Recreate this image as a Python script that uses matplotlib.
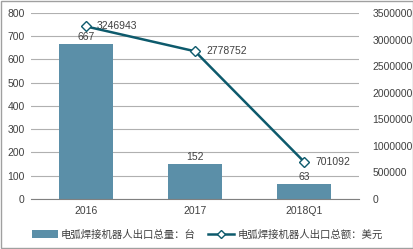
import matplotlib
matplotlib.use("Agg")
import matplotlib.pyplot as plt
from matplotlib.patches import Rectangle
from matplotlib.ticker import FuncFormatter
import numpy as np

plt.rcParams['font.family'] = ['Liberation Sans', 'Noto Sans CJK SC', 'DejaVu Sans']

categories = ["2016", "2017", "2018Q1"]
qty = [667, 152, 63]
amount = [3246943, 2778752, 701092]
qty_label = "电弧焊接机器人出口总量：台"
amount_label = "电弧焊接机器人出口总额：美元"

bar_color = "#5b8fa8"
line_color = "#0d5a6c"
grid_color = "#b0b0b0"
text_color = "#404040"

fig = plt.figure(figsize=(4.14, 2.49), dpi=100)
ax = fig.add_axes([0.076, 0.201, 0.79, 0.747])
x = np.arange(len(categories))

bars = ax.bar(x, qty, width=0.49, color=bar_color, zorder=2, label=qty_label)
ax.set_xlim(-0.5, len(categories) - 0.5)
ax.set_ylim(0, 800)
ax.set_yticks(range(0, 801, 100))
ax.set_xticks(x)
ax.set_xticklabels(categories)
ax.grid(axis='y', color=grid_color, linewidth=0.8, zorder=0)
for s in ['top', 'right', 'left']:
    ax.spines[s].set_visible(False)
ax.spines['bottom'].set_color('#808080')
ax.tick_params(length=0, labelsize=7.5, colors=text_color, pad=5)
for xi, v in zip(x, qty):
    ax.text(xi, v + 8, str(v), ha='center', va='bottom', fontsize=7.5, color=text_color, zorder=5)

ax2 = ax.twinx()
ax2.plot(x, amount, color=line_color, linewidth=1.8, marker='D', markersize=5.5,
         markerfacecolor='white', markeredgecolor=line_color, markeredgewidth=1, zorder=4,
         label=amount_label)
ax2.set_ylim(0, 3500000)
ax2.set_yticks(range(0, 3500001, 500000))
ax2.yaxis.set_major_formatter(FuncFormatter(lambda v, p: "%d" % v))
for s in ['top', 'right', 'left', 'bottom']:
    ax2.spines[s].set_visible(False)
ax2.tick_params(length=0, labelsize=7.5, colors=text_color, pad=10)
for xi, v in zip(x, amount):
    ax2.annotate(str(v), (xi, v), xytext=(8, 0), textcoords='offset points',
                 ha='left', va='center', fontsize=7.5, color=text_color)

h1, l1 = ax.get_legend_handles_labels()
h2, l2 = ax2.get_legend_handles_labels()
fig.legend(h1 + h2, l1 + l2, loc='lower center', bbox_to_anchor=(0.5, 0.0), ncol=2,
           frameon=False, fontsize=7.5, handlelength=2.5, columnspacing=1.2,
           labelcolor=text_color, handletextpad=0.3, markerscale=0.8)

fig.patches.append(Rectangle((0.002, 0.004), 0.996, 0.992, transform=fig.transFigure,
                             fill=False, edgecolor='#a0a0a0', linewidth=1))
fig.savefig("out.png", dpi=100)
